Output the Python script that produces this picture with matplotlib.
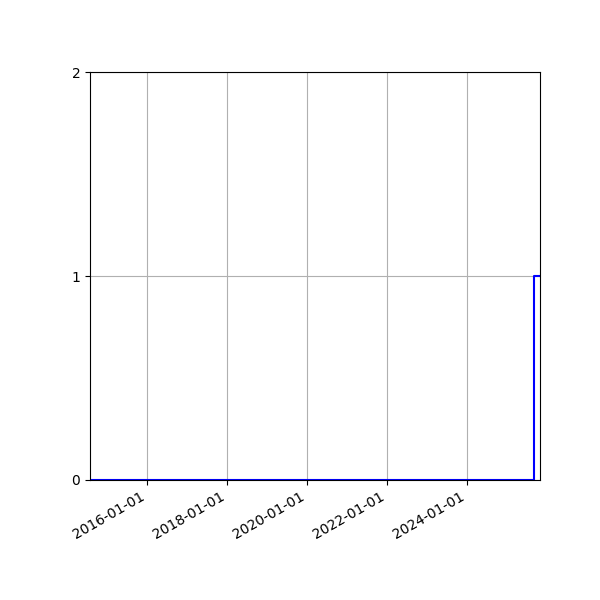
import matplotlib
matplotlib.use("Agg")
import matplotlib.pyplot as plt
import matplotlib.dates as mdates
import numpy as np

dates = np.array(["2014-07-29", "2025-09-04", "2025-10-29"], dtype="datetime64[D]")
values = [0, 1, 1]
yticks = [0, 1, 2]

fig, ax = plt.subplots(figsize=(6, 6), dpi=100)
fig.subplots_adjust(left=0.15, right=0.9, top=0.88)
ax.step(dates, values, where="post", color="blue", linewidth=1.5)
ax.set_xlim(dates[0], dates[-1])
ax.set_ylim(0, 2)
ax.set_yticks(yticks)
ax.xaxis.set_major_locator(mdates.YearLocator(2, month=1, day=1))
ax.xaxis.set_major_formatter(mdates.DateFormatter("%Y-%m-%d"))
ax.grid(True)
fig.autofmt_xdate()
fig.savefig("out.png", dpi=100)
